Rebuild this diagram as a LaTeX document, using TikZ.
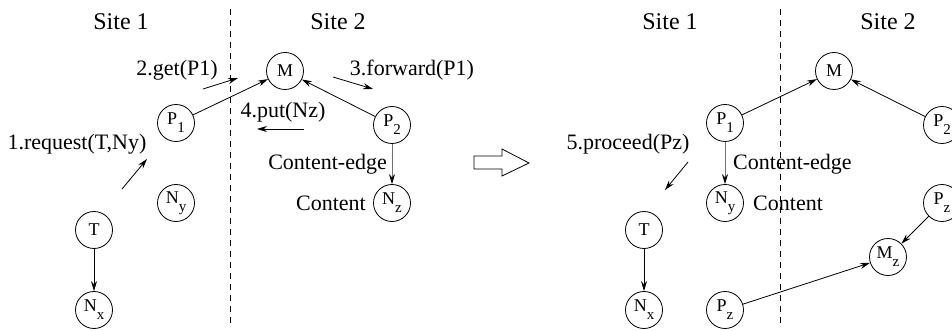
\documentclass[tikz,border=0pt]{standalone}
\usepackage{fontspec}
\setmainfont{Liberation Serif}
\usetikzlibrary{arrows.meta}
\tikzset{
  circ/.style={draw, circle, minimum size=37pt, inner sep=0pt, line width=0.8pt, font=\fontsize{18}{18}\selectfont},
  lbl/.style={inner sep=0pt, anchor=base, font=\fontsize{22}{22}\selectfont},
  sitelbl/.style={inner sep=0pt, anchor=base, font=\fontsize{24}{24}\selectfont},
  arr/.style={line width=0.8pt, -{Stealth[length=10pt, width=6pt]}},
  cedge/.style={line width=0.8pt, black!55, -{Stealth[length=10pt, width=6pt, black]}},
  divider/.style={line width=0.8pt, dash pattern=on 6pt off 5pt},
}
\newcommand{\sbs}[1]{\raisebox{-0.45em}{\fontsize{15}{15}\selectfont #1}}
\begin{document}
\begin{tikzpicture}[x=1pt, y=-1pt]
\useasboundingbox (0,0) rectangle (952,331);
\clip (0,0) rectangle (952,331);

% ---------- before ----------
\draw[divider] (230,9) -- (230,324);
\node[sitelbl] (s1a) at (121,30) {Site 1};
\node[sitelbl] (s2a) at (338,30) {Site 2};

\node[circ] (M)  at (285,71)  {M};
\node[circ] (P1) at (176,123) {P\sbs{1}};
\node[circ] (P2) at (392,125) {P\sbs{2}};
\node[circ] (Nz) at (392,203) {N\sbs{z}};
\node[circ] (Ny) at (176,203) {N\sbs{y}};
\node[circ] (T)  at (94,230)  {T};
\node[circ] (Nx) at (94,310)  {N\sbs{x}};

\draw[arr] (P1) -- (M);
\draw[arr] (P2) -- (M);
\draw[cedge] (P2) -- (Nz);
\draw[arr] (T) -- (Nx);

\node[lbl] (get) at (177,76) {2.get(P1)};
\node[lbl] (fwd) at (412,76) {3.forward(P1)};
\node[lbl] (put) at (283,118) {4.put(Nz)};
\node[lbl] (req) at (77,150) {1.request(T,Ny)};
\node[lbl, anchor=base east] (ce1) at (387,170) {Content-edge};
\node[lbl, anchor=base east] (ct1) at (366,210) {Content};

\coordinate (getA) at (203,89);  \coordinate (getB) at (238,78);
\coordinate (fwdA) at (333,77);  \coordinate (fwdB) at (373,89);
\coordinate (putA) at (304,129); \coordinate (putB) at (257,129);
\coordinate (reqA) at (122,189); \coordinate (reqB) at (147,159);
\draw[arr] (getA) -- (getB);
\draw[arr] (fwdA) -- (fwdB);
\draw[arr] (putA) -- (putB);
\draw[arr] (reqA) -- (reqB);

% ---------- transition ----------
\draw[line width=0.8pt] (474,156) -- (502,156) -- (502,149) -- (529,163)
  -- (502,176) -- (502,169) -- (474,169) -- cycle;

% ---------- after ----------
\draw[divider] (780,9) -- (780,324);
\node[sitelbl] (s1b) at (670,30) {Site 1};
\node[sitelbl] (s2b) at (888,30) {Site 2};

\node[circ] (Mr)   at (834,71)  {M};
\node[circ] (P1r)  at (725,123) {P\sbs{1}};
\node[circ] (P2r)  at (942,125) {P\sbs{2}};
\node[circ] (Nyr)  at (725,203) {N\sbs{y}};
\node[circ] (Tr)   at (644,230) {T};
\node[circ] (Nxr)  at (644,310) {N\sbs{x}};
\node[circ] (Pzb)  at (725,310) {P\sbs{z}};
\node[circ] (Mzr)  at (888,257) {M\sbs{z}};
\node[circ] (Pzr)  at (942,203) {P\sbs{z}};

\draw[arr] (P1r) -- (Mr);
\draw[arr] (P2r) -- (Mr);
\draw[cedge] (P1r) -- (Nyr);
\draw[arr] (Tr) -- (Nxr);
\draw[arr] (Pzr) -- (Mzr);
\draw[arr] (Pzb) -- (Mzr);

\node[lbl] (proc) at (628,150) {5.proceed(Pz)};
\node[lbl, anchor=base west] (ce2) at (733,170) {Content-edge};
\node[lbl, anchor=base west] (ct2) at (753,210) {Content};

\coordinate (procA) at (688,162); \coordinate (procB) at (665,190);
\draw[arr] (procA) -- (procB);
\end{tikzpicture}
\end{document}
